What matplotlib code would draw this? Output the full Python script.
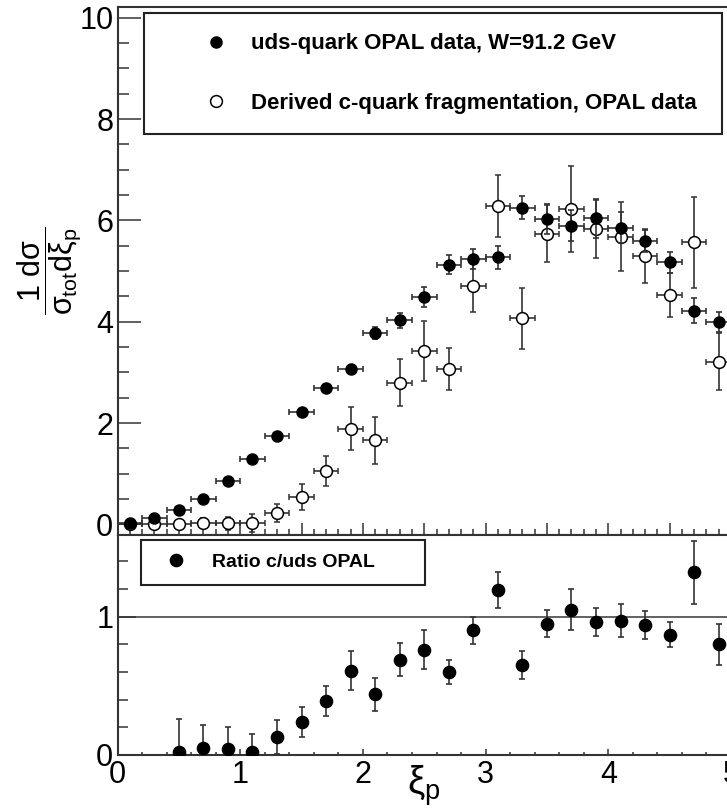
import numpy as np
import matplotlib
matplotlib.use("Agg")
import matplotlib.pyplot as plt
from matplotlib.ticker import MultipleLocator

plt.rcParams['font.family'] = ['Liberation Sans', 'DejaVu Sans']
plt.rcParams['mathtext.fontset'] = 'custom'
plt.rcParams['mathtext.rm'] = 'Liberation Sans'
plt.rcParams['mathtext.it'] = 'Liberation Sans'
plt.rcParams['mathtext.bf'] = 'Liberation Sans:bold'

# bin centres in xi_p
xi = [0.1, 0.3, 0.5, 0.7, 0.9, 1.1, 1.3, 1.5, 1.7, 1.9, 2.1, 2.3, 2.5,
      2.7, 2.9, 3.1, 3.3, 3.5, 3.7, 3.9, 4.1, 4.3, 4.5, 4.7, 4.9]
xi_halfwidth = 0.1

# uds-quark OPAL data
uds = [0.02, 0.12, 0.28, 0.51, 0.86, 1.30, 1.75, 2.22, 2.70, 3.06, 3.77, 4.03, 4.49,
       5.13, 5.24, 5.27, 6.25, 6.03, 5.90, 6.04, 5.86, 5.60, 5.17, 4.22, 3.99]
uds_err = [0.03, 0.03, 0.04, 0.04, 0.05, 0.05, 0.06, 0.06, 0.07, 0.08, 0.12, 0.15, 0.20,
           0.18, 0.20, 0.22, 0.23, 0.29, 0.30, 0.38, 0.30, 0.22, 0.20, 0.25, 0.20]

# derived c-quark fragmentation
cq = [0.0, 0.0, 0.0, 0.02, 0.02, 0.02, 0.23, 0.54, 1.05, 1.89, 1.66, 2.80, 3.43,
      3.07, 4.71, 6.29, 4.07, 5.74, 6.22, 5.83, 5.68, 5.30, 4.53, 5.57, 3.21]
cq_err = [0.03, 0.05, 0.06, 0.10, 0.13, 0.18, 0.18, 0.25, 0.30, 0.42, 0.46, 0.46, 0.59,
          0.42, 0.52, 0.61, 0.60, 0.56, 0.85, 0.58, 0.68, 0.54, 0.43, 0.90, 0.56]

# ratio c/uds
xi_ratio = [0.5, 0.7, 0.9, 1.1, 1.3, 1.5, 1.7, 1.9, 2.1, 2.3, 2.5, 2.7,
            2.9, 3.1, 3.3, 3.5, 3.7, 3.9, 4.1, 4.3, 4.5, 4.7, 4.9]
ratio = [0.02, 0.05, 0.04, 0.02, 0.13, 0.24, 0.39, 0.61, 0.44, 0.69, 0.76, 0.60,
         0.90, 1.19, 0.65, 0.95, 1.05, 0.96, 0.97, 0.94, 0.87, 1.32, 0.80]
ratio_err = [0.24, 0.17, 0.16, 0.13, 0.12, 0.11, 0.11, 0.14, 0.12, 0.12, 0.14, 0.09,
             0.10, 0.13, 0.10, 0.10, 0.15, 0.10, 0.12, 0.10, 0.09, 0.23, 0.15]

W, H = 727, 810
fig = plt.figure(figsize=(W / 100, H / 100), dpi=100)

left = 117.5 / W
width = 613.5 / W
ax1 = fig.add_axes([left, (H - 535) / H, width, 528.3 / H])
ax2 = fig.add_axes([left, (H - 755) / H, width, 220 / H])

ecol = '#333333'
spcol = '#333333'

h_c = ax1.errorbar(xi, cq, yerr=cq_err, xerr=xi_halfwidth, fmt='o', mfc='white', mec='black',
                   mew=1.1, ms=8.5, ecolor=ecol, elinewidth=1.2, capsize=2.5, capthick=1.2, zorder=3)
h_uds = ax1.errorbar(xi, uds, yerr=uds_err, xerr=xi_halfwidth, fmt='o', color='black',
                     ms=8, ecolor=ecol, elinewidth=1.2, capsize=2.5, capthick=1.2, zorder=4)

ax1.set_xlim(0, 5)
ax1.set_ylim(-0.21, 10.22)
ax1.xaxis.set_major_locator(MultipleLocator(0.5))
ax1.xaxis.set_minor_locator(MultipleLocator(0.1))
ax1.yaxis.set_major_locator(MultipleLocator(2))
ax1.yaxis.set_minor_locator(MultipleLocator(0.5))
ax1.tick_params(axis='x', which='both', direction='in', labelbottom=False, top=False,
                color=spcol, width=1.1)
ax1.tick_params(axis='x', which='major', length=8.5)
ax1.tick_params(axis='x', which='minor', length=4.3)
ax1.tick_params(axis='y', which='both', direction='in', right=False, color=spcol,
                width=1.1, labelsize=22, pad=3)
ax1.tick_params(axis='y', which='major', length=16.5)
ax1.tick_params(axis='y', which='minor', length=8)
for s in ax1.spines.values():
    s.set_color(spcol)
    s.set_linewidth(1.5)

ax1.set_ylabel(r'$\dfrac{1\ d\sigma}{\sigma_{tot}d\xi_{p}}$', fontsize=22, rotation=90)
ax1.yaxis.set_label_coords(-0.056, 0.5)

leg1 = ax1.legend([h_uds[0], h_c[0]],
                  ['uds-quark OPAL data, W=91.2 GeV', 'Derived c-quark fragmentation, OPAL data'],
                  loc='upper left', bbox_to_anchor=(0.0432, 0.5, 0.942, 0.488), mode='expand',
                  borderaxespad=0, numpoints=1, fancybox=False, framealpha=1,
                  edgecolor='#222222', prop={'weight': 'bold', 'size': 16},
                  borderpad=0.92, labelspacing=1.72, handlelength=4.6, handletextpad=-0.7)
leg1.get_frame().set_linewidth(1.5)

# ratio panel
h_r = ax2.errorbar(xi_ratio, ratio, yerr=ratio_err, fmt='o', color='black', ms=8.8,
                   ecolor=ecol, elinewidth=1.2, capsize=2.5, capthick=1.2, zorder=3)
ax2.axhline(1, color='#555555', lw=1.3, zorder=1)
ax2.set_xlim(0, 5)
ax2.set_ylim(0, 1.59)
ax2.xaxis.set_major_locator(MultipleLocator(1))
ax2.xaxis.set_minor_locator(MultipleLocator(0.2))
ax2.yaxis.set_major_locator(MultipleLocator(1))
ax2.yaxis.set_minor_locator(MultipleLocator(0.2))
ax2.tick_params(axis='x', which='both', direction='in', top=False, color=spcol, width=1.1,
                labelsize=22, pad=3.5)
ax2.tick_params(axis='x', which='major', length=4)
ax2.tick_params(axis='x', which='minor', length=2.2)
ax2.tick_params(axis='y', which='both', direction='in', right=False, color=spcol, width=1.1,
                labelsize=22, pad=3)
ax2.tick_params(axis='y', which='major', length=13)
ax2.tick_params(axis='y', which='minor', length=7)
for s in ax2.spines.values():
    s.set_color(spcol)
    s.set_linewidth(1.5)

leg2 = ax2.legend([h_r[0]], ['Ratio c/uds OPAL'], loc='upper left',
                  bbox_to_anchor=(0.0378, 0.2, 0.463, 0.777), mode='expand', borderaxespad=0,
                  numpoints=1, fancybox=False, framealpha=1, edgecolor='#222222',
                  prop={'weight': 'bold', 'size': 14},
                  borderpad=0.7, handlelength=2.2, handletextpad=0.75)
leg2.get_frame().set_linewidth(1.5)

fig.text(424 / W, 1 - 763 / H, r'$\xi_{p}$', fontsize=28, ha='center', va='top')

fig.savefig('out.png', dpi=100)
